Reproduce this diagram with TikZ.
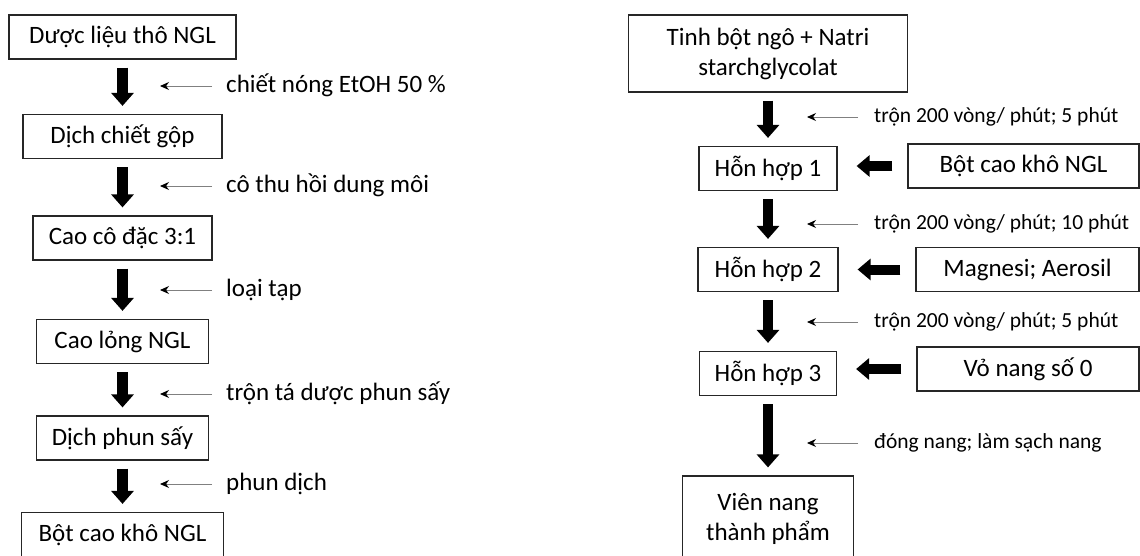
\documentclass[tikz,border=0pt]{standalone}
\usepackage{fontspec}
\setmainfont{Carlito}
\usepackage{tikz}
\usetikzlibrary{arrows.meta}
\tikzset{
  box/.style={draw=black!85, line width=1.2pt, minimum height=44pt, inner sep=0pt, align=center, font=\fontsize{25}{30}\selectfont},
  flow/.style={line width=10.5pt, -{Triangle[width=22pt,length=13pt]}, shorten <=8pt, shorten >=8pt},
  feed/.style={line width=10pt, -{Triangle[width=21pt,length=13pt]}, shorten <=15pt, shorten >=19pt},
  note/.style={anchor=west, inner xsep=14pt, inner ysep=0pt, text height=19pt, text depth=6pt, font=\fontsize{25}{30}\selectfont},
  smallnote/.style={note, inner xsep=16pt, text height=16pt, text depth=5pt, font=\fontsize{21.5}{26}\selectfont},
  tip/.style={draw=black!50, line width=1pt, -{Stealth[length=9pt,width=8pt,black]}}
}

\begin{document}
\begin{tikzpicture}[x=1pt,y=-1pt]
\useasboundingbox (0,0) rectangle (1140,555);
% left column
\foreach \n/\y/\w/\txt in {l1/37/227/Dược liệu thô NGL, l2/136.5/199/Dịch chiết gộp, l3/238/179/Cao cô đặc 3:1, l4/341.5/172/Cao lỏng NGL, l5/438/172/Dịch phun sấy, l6/534.5/202/Bột cao khô NGL}{
\node[box, minimum width=\w pt] (\n) at (122.5,\y) {\txt};
}
\foreach \a/\b in {l1/l2, l2/l3, l3/l4, l4/l5, l5/l6}{
\draw[flow] (\a) -- (\b);
}
\foreach \n/\y/\txt in {1/86/{chiết nóng EtOH 50 \%}, 2/186/cô thu hồi dung môi, 3/290/loại tạp, 4/394/trộn tá dược phun sấy, 5/484/phun dịch}{
\node[note] (c\n) at (212,\y) {\txt};
\coordinate (e\n) at (160,\y);
\draw[tip] (c\n.west) -- (e\n);
}
% right column
\node[box, minimum width=279pt, minimum height=77pt] (r0) at (768,53.5) {Tinh bột ngô + Natri\\starchglycolat};
\foreach \n/\y/\w/\txt in {h1/168.5/138/Hỗn hợp 1, h2/269.5/140/Hỗn hợp 2, h3/373.5/137/Hỗn hợp 3}{
\node[box, minimum width=\w pt] (\n) at (768,\y) {\txt};
}
\node[box, minimum width=171pt, minimum height=86pt] (r4) at (768,519) {Viên nang\\thành phẩm};
\foreach \a/\b in {r0/h1, h1/h2, h2/h3, h3/r4}{
\draw[flow] (\a) -- (\b);
}
\foreach \n/\y/\txt in {1/117/{trộn 200 vòng/ phút; 5 phút}, 2/224/{trộn 200 vòng/ phút; 10 phút}, 3/322/{trộn 200 vòng/ phút; 5 phút}, 4/443/{đóng nang; làm sạch nang}}{
\node[smallnote] (m\n) at (858,\y) {\txt};
\coordinate (f\n) at (807,\y);
\draw[tip] (m\n.west) -- (f\n);
}
% added ingredients
\foreach \n/\x/\y/\w/\txt/\h in {s1/1023.5/166/231/Bột cao khô NGL/h1, s2/1027.5/269.5/223/{Magnesi; Aerosil}/h2, s3/1028/369/222/Vỏ nang số 0/h3}{
\node[box, minimum width=\w pt] (\n) at (\x,\y) {\txt};
\draw[feed] (\n.west) -- (\n.west -| \h.east);
}
\end{tikzpicture}
\end{document}
